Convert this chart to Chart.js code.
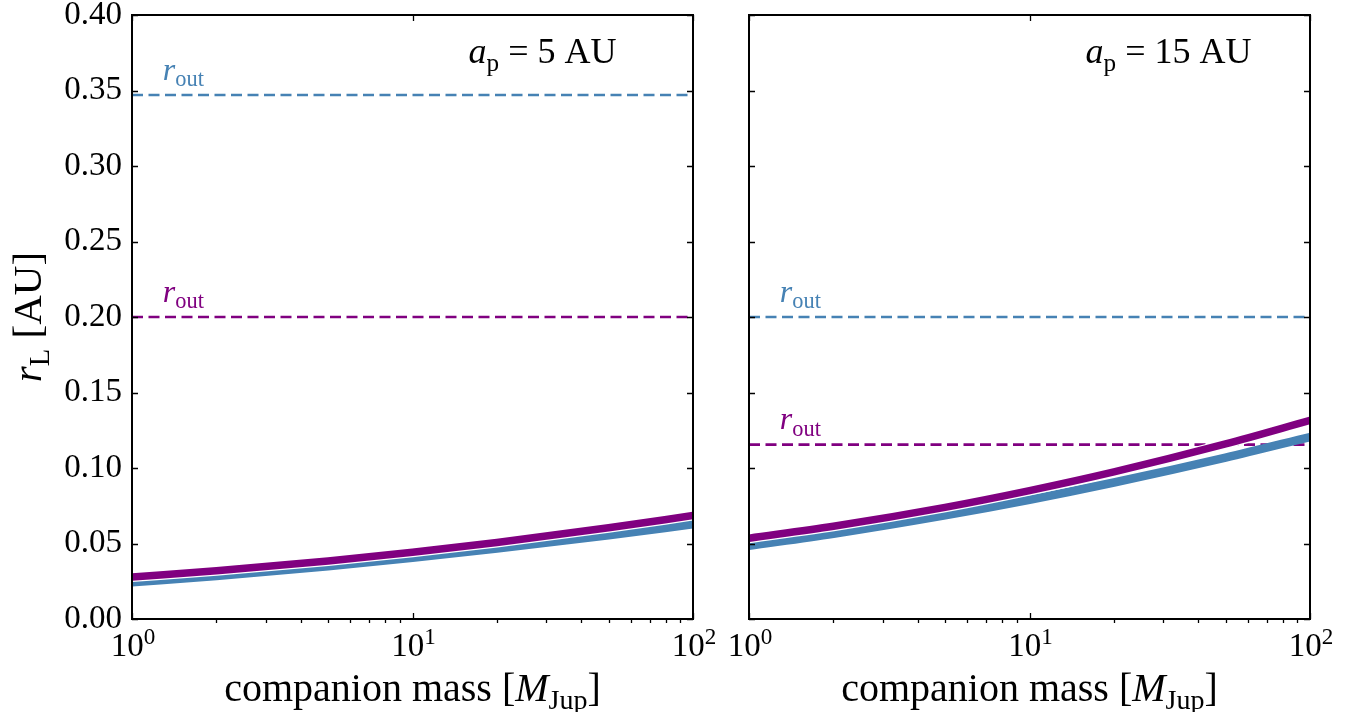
<!DOCTYPE html>
<html>
<head>
<meta charset="utf-8">
<script src="https://cdn.jsdelivr.net/npm/chart.js@4.4.1/dist/chart.umd.min.js"></script>
<style>
  html, body { margin: 0; padding: 0; background: #fff; }
  #wrap { position: relative; width: 1352px; height: 712px; overflow: hidden; }
  #left { position: absolute; left: 0; top: 0; }
  #right { position: absolute; left: 720px; top: 0; }
</style>
</head>
<body>
<div id="wrap">
  <canvas id="left" width="720" height="712"></canvas>
  <canvas id="right" width="632" height="712"></canvas>
</div>
<script>
// companion mass grid [M_Jup]
const companionMass = [1, 2, 5, 10, 20, 50, 100];

// r_L [AU] for a_p = 5 AU
const rL_5au_case1 = [0.0243, 0.0285, 0.0350, 0.0405, 0.0466, 0.0554, 0.0628];
const rL_5au_case2 = [0.0278, 0.0319, 0.0384, 0.0442, 0.0507, 0.0604, 0.0685];

// r_L [AU] for a_p = 15 AU
const rL_15au_case1 = [0.0485, 0.0565, 0.0687, 0.0790, 0.0904, 0.1069, 0.1205];
const rL_15au_case2 = [0.0535, 0.0614, 0.0739, 0.0850, 0.0974, 0.1159, 0.1315];

// outer radii, one per panel
const panelAp = [5, 15];
const rOut_case1 = [0.347, 0.200];
const rOut_case2 = [0.200, 0.1155];

// axis ticks
const xMajorExp = [0, 1, 2];
const xMinorTicks = [2, 3, 4, 5, 6, 7, 8, 9, 20, 30, 40, 50, 60, 70, 80, 90];
const yMin = 0, yMax = 0.40, yStep = 0.05;

const SERIF = "'Liberation Serif', 'DejaVu Serif', serif";
const BLUE = '#4682b4';
const PURPLE = '#800080';

Chart.defaults.font.family = SERIF;
Chart.defaults.color = '#000';

// draws a run of text pieces: ['txt', ''|'i'|'sub'|'sup']
function drawRuns(ctx, runs, x, y, size, align, color) {
    const parts = runs.map(([txt, kind]) => {
        const small = kind === 'sub' || kind === 'sup';
        const fs = small ? size * 0.7 : size;
        const font = (kind === 'i' ? 'italic ' : '') + fs + 'px ' + SERIF;
        ctx.font = font;
        const dy = kind === 'sub' ? size * 0.2 : kind === 'sup' ? -size * 0.36 : 0;
        return { txt, font, dy, w: ctx.measureText(txt).width };
    });
    const total = parts.reduce((s, p) => s + p.w, 0);
    let cx = align === 'center' ? x - total / 2 : align === 'right' ? x - total : x;
    ctx.fillStyle = color || '#000';
    ctx.textAlign = 'left';
    ctx.textBaseline = 'alphabetic';
    parts.forEach(p => {
        ctx.font = p.font;
        ctx.fillText(p.txt, cx, y + p.dy);
        cx += p.w;
    });
}

// frame, inward ticks, log tick labels and text labels
const panelDecor = {
    id: 'panelDecor',
    afterDraw(chart, args, opts) {
        const { ctx, chartArea: a, scales: { x, y } } = chart;
        const w = a.right - a.left, h = a.bottom - a.top;
        ctx.save();
        ctx.strokeStyle = '#000';
        ctx.lineWidth = 1.3;
        ctx.beginPath();
        // y ticks, inward on both sides
        y.ticks.forEach(t => {
            const py = Math.round(y.getPixelForValue(t.value)) + 0.5;
            ctx.moveTo(a.left, py); ctx.lineTo(a.left + 6, py);
            ctx.moveTo(a.right, py); ctx.lineTo(a.right - 6, py);
        });
        // major x ticks, inward top and bottom
        xMajorExp.forEach(e => {
            const px = Math.round(x.getPixelForValue(Math.pow(10, e))) + 0.5;
            ctx.moveTo(px, a.bottom); ctx.lineTo(px, a.bottom - 6);
            ctx.moveTo(px, a.top); ctx.lineTo(px, a.top + 6);
        });
        // minor x ticks, outward at the bottom
        xMinorTicks.forEach(v => {
            const px = Math.round(x.getPixelForValue(v)) + 0.5;
            ctx.moveTo(px, a.bottom); ctx.lineTo(px, a.bottom + 4);
        });
        ctx.stroke();
        ctx.lineWidth = 2;
        ctx.strokeRect(a.left, a.top, w, h);

        // x tick labels 10^n
        xMajorExp.forEach(e => {
            const px = x.getPixelForValue(Math.pow(10, e));
            drawRuns(ctx, [['10', ''], [String(e), 'sup']], px + 1, a.bottom + 37, 33, 'center');
        });

        // axis titles
        drawRuns(ctx, [['companion mass [', ''], ['M', 'i'], ['Jup', 'sub'], [']', '']],
            (a.left + a.right) / 2, a.bottom + 82, 40, 'center');
        if (opts.yTitle) {
            ctx.save();
            ctx.translate(a.left - 91, (a.top + a.bottom) / 2);
            ctx.rotate(-Math.PI / 2);
            drawRuns(ctx, [['r', 'i'], ['L', 'sub'], [' [AU]', '']], 0, 0, 41, 'center');
            ctx.restore();
        }

        // a_p label
        drawRuns(ctx, [['a', 'i'], ['p', 'sub'], [' = ' + opts.ap + ' AU', '']],
            a.left + 0.6 * w, a.top + 0.08 * h, 36, 'left');

        // r_out labels above the dashed lines
        opts.rOut.forEach(([val, col]) => {
            drawRuns(ctx, [['r', 'i'], ['out', 'sub']],
                a.left + 0.055 * w, y.getPixelForValue(val + 0.01), 32, 'left', col);
        });
        ctx.restore();
    }
};

function points(ys) {
    return companionMass.map((m, i) => ({ x: m, y: ys[i] }));
}

function flat(v) {
    const n = companionMass.length;
    return [{ x: companionMass[0], y: v }, { x: companionMass[n - 1], y: v }];
}

function makePanel(canvasId, idx, case1, case2, opts) {
    return new Chart(document.getElementById(canvasId), {
        type: 'line',
        data: {
            datasets: [
                { data: points(case2), borderColor: PURPLE, borderWidth: 7.5, order: 0 },
                { data: points(case2), borderColor: '#fff', borderWidth: 10, order: 1 },
                { data: points(case1), borderColor: BLUE, borderWidth: 8.5, order: 2 },
                { data: flat(rOut_case1[idx]), borderColor: BLUE, borderWidth: 2.6, borderDash: [11, 5.5], order: 3 },
                { data: flat(rOut_case2[idx]), borderColor: PURPLE, borderWidth: 2.6, borderDash: [11, 5.5], order: 3 }
            ]
        },
        options: {
            responsive: false,
            animation: false,
            events: [],
            layout: { padding: { top: 15, right: opts.padRight, bottom: 0, left: 0 } },
            elements: {
                point: { radius: 0 },
                line: { cubicInterpolationMode: 'monotone', borderCapStyle: 'butt' }
            },
            plugins: {
                legend: { display: false },
                tooltip: { enabled: false },
                panelDecor: {
                    ap: panelAp[idx],
                    yTitle: opts.yTitle,
                    rOut: [[rOut_case1[idx], BLUE], [rOut_case2[idx], PURPLE]]
                }
            },
            scales: {
                x: {
                    type: 'logarithmic',
                    min: companionMass[0],
                    max: companionMass[companionMass.length - 1],
                    grid: { display: false, drawTicks: false },
                    border: { display: false },
                    ticks: { display: false },
                    afterFit: s => { s.height = 93; s.paddingLeft = 0; s.paddingRight = 0; }
                },
                y: {
                    min: yMin,
                    max: yMax,
                    grid: { display: false, drawTicks: false },
                    border: { display: false },
                    ticks: {
                        display: opts.yLabels,
                        stepSize: yStep,
                        padding: 10,
                        color: '#000',
                        font: { size: 33, family: SERIF },
                        callback: v => v.toFixed(2)
                    },
                    afterFit: s => { s.width = opts.yWidth; s.paddingTop = 0; s.paddingBottom = 0; }
                }
            }
        },
        plugins: [panelDecor]
    });
}

makePanel('left', 0, rL_5au_case1, rL_5au_case2, { yTitle: true, yLabels: true, yWidth: 132, padRight: 27 });
makePanel('right', 1, rL_15au_case1, rL_15au_case2, { yTitle: false, yLabels: false, yWidth: 29, padRight: 42 });
</script>
</body>
</html>
